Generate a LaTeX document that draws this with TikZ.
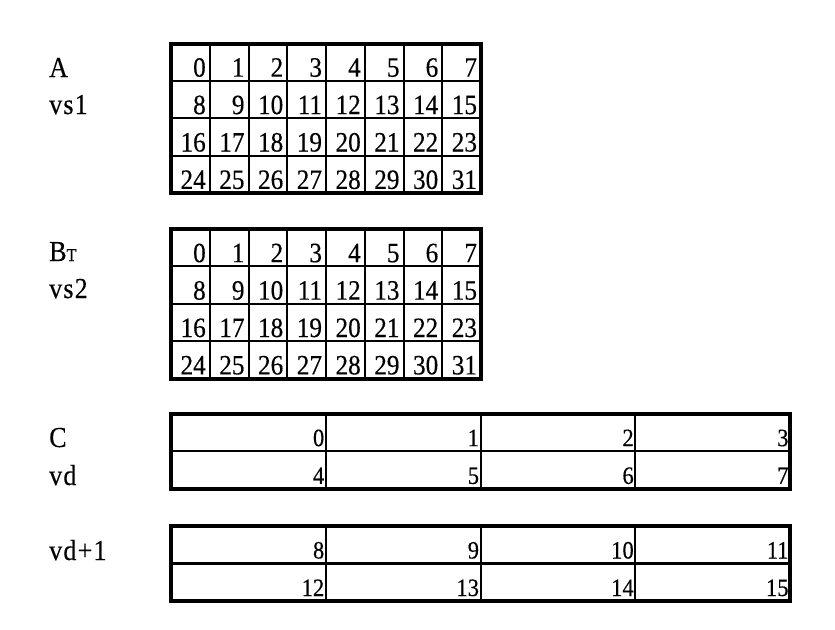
\documentclass[tikz,border=0pt]{standalone}
\usepackage{fontspec}
\setmainfont{Liberation Serif}[FakeStretch=0.9,FakeBold=0.3]
\newfontfamily\labfont{Liberation Serif}[FakeStretch=0.9,FakeBold=0.3,LetterSpace=4]
\usepackage{tikz}
\usetikzlibrary{positioning,calc}
\tikzset{cell/.style={draw, rectangle, line width=2pt, inner sep=0pt, inner xsep=4pt, outer sep=0pt, align=right, text depth=0pt}}
\tikzstyle{small}=[cell, minimum width=38.75pt, minimum height=37.4pt, text width=30.75pt, text height=29pt, font=\fontsize{28}{28}\selectfont]
\tikzstyle{wide}=[cell, minimum width=154.75pt, minimum height=37.75pt, text width=151.75pt, inner xsep=1.5pt, text height=27.5pt, font=\fontsize{25}{25}\selectfont]
\tikzstyle{lab}=[anchor=base west, inner sep=0pt, font=\labfont\fontsize{29}{29}\selectfont]
\tikzstyle{frame}=[line width=4pt]

\begin{document}
\begin{tikzpicture}[x=1pt, y=-1pt]
\useasboundingbox (0,0) rectangle (835,629);
% labels
\node[lab] (A) at (49,77) {A};
\node[lab] (vs1) at (49,114) {vs1};
\node[lab] (B) at (49,261) {B{\fontsize{18}{18}\selectfont T}};
\node[lab] (vs2) at (49,298) {vs2};
\node[lab] (C) at (49,447) {C};
\node[lab] (vd) at (49,485) {vd};
\node[lab] (vdp) at (49,560) {vd+1};
% A and B tiles
\foreach \i in {0,...,31}{
  \pgfmathtruncatemacro\c{mod(\i,8)}
  \pgfmathtruncatemacro\r{div(\i,8)}
  \node[small] (a\i) at ({171+(\c+0.5)*38.75},{43.5+(\r+0.5)*37.4}) {\i};
  \node[small] (b\i) at ({171+(\c+0.5)*38.75},{229+(\r+0.5)*37.4}) {\i};
}
% C tiles
\foreach \i in {0,...,7}{
  \pgfmathtruncatemacro\c{mod(\i,4)}
  \pgfmathtruncatemacro\r{div(\i,4)}
  \pgfmathtruncatemacro\j{\i+8}
  \node[wide] (c\i) at ({171+(\c+0.5)*154.75},{413.5+(\r+0.5)*37.75}) {\i};
  \node[wide] (d\i) at ({171+(\c+0.5)*154.75},{526+(\r+0.5)*37.5}) {\j};
}
\draw[frame] (a0.north west) rectangle (a31.south east);
\draw[frame] (b0.north west) rectangle (b31.south east);
\draw[frame] (c0.north west) rectangle (c7.south east);
\draw[frame] (d0.north west) rectangle (d7.south east);
\end{tikzpicture}
\end{document}
